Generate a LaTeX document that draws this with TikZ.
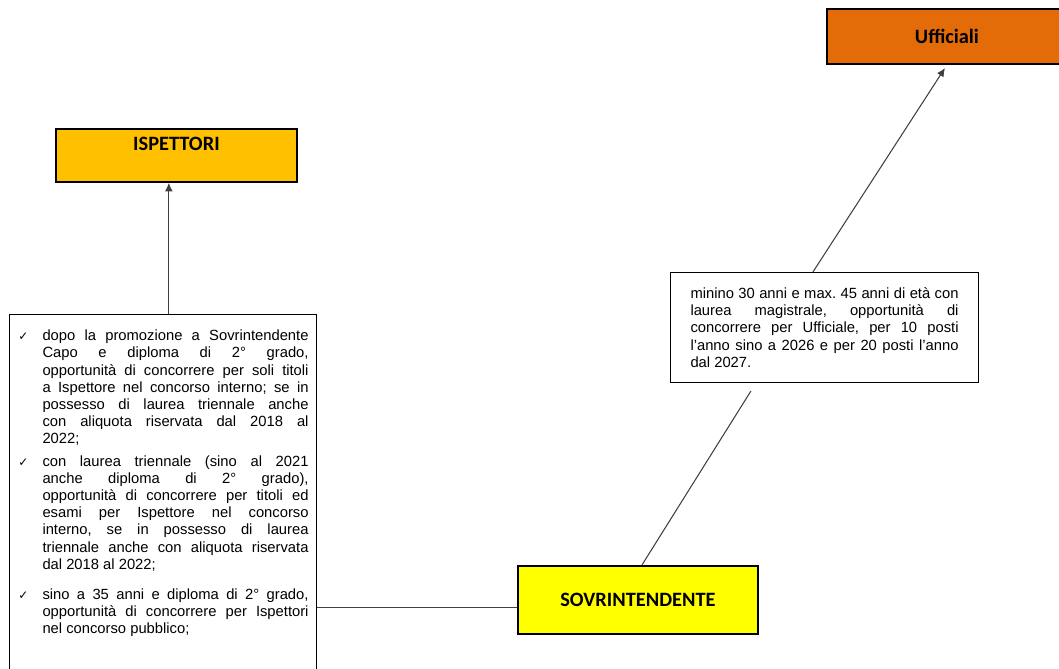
\documentclass[tikz,border=0pt]{standalone}
\usepackage{fontspec}
\setmainfont{Liberation Sans}
\newfontfamily\titlefont{Carlito}
\newfontfamily\symfont{DejaVu Sans}
\usepackage{tikz}
\usetikzlibrary{arrows.meta}
\definecolor{ispcolor}{HTML}{FFC000}
\definecolor{uffcolor}{HTML}{E36C09}
\definecolor{sovcolor}{HTML}{FFFF00}
\definecolor{linkgray}{HTML}{404040}
\hyphenpenalty=10000
\exhyphenpenalty=10000
\tolerance=9999
\frenchspacing
\newcommand{\chk}{{\symfont\fontsize{8.5}{8.5}\selectfont ✓}}
\newcommand{\chkitem}{\par\noindent\hangindent=0.625cm\hangafter=1\makebox[0.625cm][l]{\hspace{0.02cm}\chk}}

\begin{document}
\begin{tikzpicture}
	[x=0.025cm,y=-0.025cm,>={Latex[length=6pt,width=5.5pt]},
		rank node/.style={rectangle,draw=black,line width=1.3pt,anchor=north west,font=\titlefont\bfseries\fontsize{14.5}{16}\selectfont},
		note node/.style={rectangle,draw=black,line width=0.7pt,fill=white,anchor=north west,align=justify,font=\fontsize{10.5}{12.26}\selectfont},
		link/.style={draw=linkgray,line width=0.75pt}]

	\useasboundingbox (0,0) rectangle (1059,669);

	\node[rank node, fill=ispcolor, minimum width=6.025cm, minimum height=1.325cm,
		inner ysep=0.2cm, text height=0.33cm, text depth=0.595cm] (isp) at (55,128) {ISPETTORI};
	\node[rank node, fill=uffcolor, minimum width=6cm, minimum height=1.375cm] (uff) at (826,8) {Ufficiali};
	\node[rank node, fill=sovcolor, minimum width=6cm, minimum height=1.7cm] (sov) at (517,565) {SOVRINTENDENTE};

	\node[note node, text width=7.275cm, inner xsep=0.2cm, inner ysep=0.22cm] (lst) at (9,314)
		{\chkitem dopo la promozione a Sovrintendente\linebreak Capo e diploma di 2° grado,\linebreak opportunità di concorrere per soli titoli\linebreak a Ispettore nel concorso interno; se in\linebreak possesso di laurea triennale anche\linebreak con aliquota riservata dal 2018 al\linebreak 2022;\par\vspace{0.12cm}
		\chkitem con laurea triennale (sino al 2021\linebreak anche diploma di 2° grado),\linebreak opportunità di concorrere per titoli ed\linebreak esami per Ispettore nel concorso\linebreak interno, se in possesso di laurea\linebreak triennale anche con aliquota riservata\linebreak dal 2018 al 2022;\par\vspace{0.32cm}
		\chkitem sino a 35 anni e diploma di 2° grado,\linebreak opportunità di concorrere per Ispettori\linebreak nel concorso pubblico;\par\noindent\rule{0pt}{1.8cm}};
	\node[note node, text width=6.7cm, inner xsep=0.5cm, minimum height=2.75cm] (rgt) at (670,272)
		{minino 30 anni e max. 45 anni di età con\linebreak laurea magistrale, opportunità di\linebreak concorrere per Ufficiale, per 10 posti\linebreak l’anno sino a 2026 e per 20 posti l’anno\linebreak dal 2027.};

	% connectors
	\coordinate (ispin) at ([xshift=-0.19cm]isp.south);
	\coordinate (sovleft) at ([yshift=-0.2cm]sov.west);
	\draw[link,->] (lst.north -| ispin) -- (ispin);
	\draw[link] (sovleft) -- (sovleft -| lst.east);
	\draw[link] ([xshift=0.1cm]sov.north) -- ([xshift=-1.84cm,yshift=-0.2cm]rgt.south);
	\draw[link,->] ([xshift=-0.29cm]rgt.north) -- ([xshift=-0.05cm,yshift=-0.08cm]uff.south);

\end{tikzpicture}
\end{document}
